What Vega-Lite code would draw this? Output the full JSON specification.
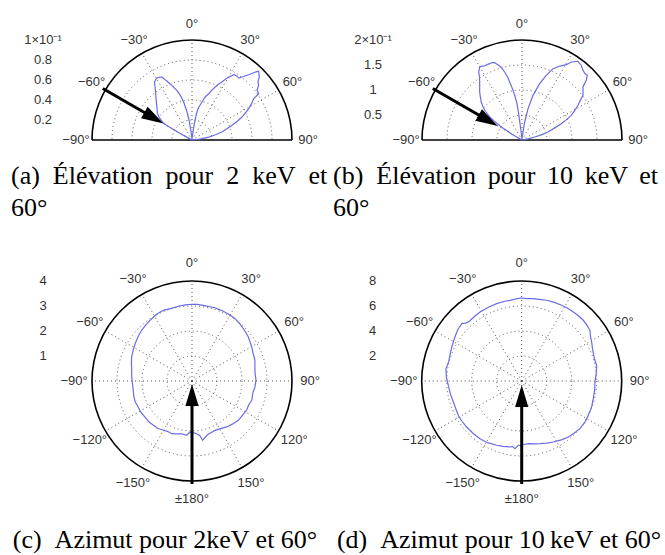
{
  "$schema": "https://vega.github.io/schema/vega-lite/v6.json",
  "padding": 0,
  "background": "white",
  "config": {"view": {"stroke": null}},
  "resolve": {"scale": {"x": "independent", "y": "independent"}},
  "spacing": 31,
  "datasets": {
    "outer": [{"r": 1}],
    "ringsA": [{"r": 0.2}, {"r": 0.4}, {"r": 0.6}, {"r": 0.8}],
    "rings4": [{"r": 0.25}, {"r": 0.5}, {"r": 0.75}],
    "radA": [{"r": 1, "t": "1×10⁻¹"}, {"r": 0.8, "t": "0.8"}, {"r": 0.6, "t": "0.6"}, {"r": 0.4, "t": "0.4"}, {"r": 0.2, "t": "0.2"}],
    "radB": [{"r": 1, "t": "2×10⁻¹"}, {"r": 0.75, "t": "1.5"}, {"r": 0.5, "t": "1"}, {"r": 0.25, "t": "0.5"}],
    "radC": [{"r": 1, "t": "4"}, {"r": 0.75, "t": "3"}, {"r": 0.5, "t": "2"}, {"r": 0.25, "t": "1"}],
    "radD": [{"r": 1, "t": "8"}, {"r": 0.75, "t": "6"}, {"r": 0.5, "t": "4"}, {"r": 0.25, "t": "2"}],
    "elevSpokes": [{"a": -60}, {"a": -30}, {"a": 0}, {"a": 30}, {"a": 60}],
    "azSpokes": [{"a": 0}, {"a": 30}, {"a": 60}, {"a": 90}, {"a": 120}, {"a": 150}, {"a": 180}, {"a": 210}, {"a": 240}, {"a": 270}, {"a": 300}, {"a": 330}],
    "elevLabels": [{"a": -90, "t": "−90°"}, {"a": -60, "t": "−60°"}, {"a": -30, "t": "−30°"}, {"a": 0, "t": "0°"}, {"a": 30, "t": "30°"}, {"a": 60, "t": "60°"}, {"a": 90, "t": "90°"}],
    "azLabels": [{"a": 0, "t": "0°"}, {"a": 30, "t": "30°"}, {"a": 60, "t": "60°"}, {"a": 90, "t": "90°"}, {"a": 120, "t": "120°"}, {"a": 150, "t": "150°"}, {"a": 180, "t": "±180°"}, {"a": -150, "t": "−150°"}, {"a": -120, "t": "−120°"}, {"a": -90, "t": "−90°"}, {"a": -60, "t": "−60°"}, {"a": -30, "t": "−30°"}],
    "arrowA": [{"a": -60, "r1": 1.03, "r2": 0.46, "rh": 0.44}],
    "arrowB": [{"a": -60, "r1": 1.03, "r2": 0.41, "rh": 0.39}],
    "arrowC": [{"a": 180, "r1": 1.03, "r2": 0.16, "rh": 0.14}],
    "arrowD": [{"a": 180, "r1": 1.03, "r2": 0.17, "rh": 0.15}],
    "curveA": [
      {"deg": -90, "v": 0}, {"deg": -75, "v": 0.0005}, {"deg": -65, "v": 0.001}, {"deg": -62, "v": 0.004}, {"deg": -61, "v": 0.015}, {"deg": -60, "v": 0.030}, {"deg": -59, "v": 0.034}, {"deg": -57, "v": 0.037}, {"deg": -55, "v": 0.0405}, {"deg": -52, "v": 0.044}, {"deg": -48, "v": 0.047}, {"deg": -45, "v": 0.050}, {"deg": -41, "v": 0.0548}, {"deg": -38, "v": 0.059}, {"deg": -35.6, "v": 0.0631}, {"deg": -33, "v": 0.069}, {"deg": -30, "v": 0.0712}, {"deg": -28, "v": 0.0710}, {"deg": -25.5, "v": 0.0698}, {"deg": -23, "v": 0.0638}, {"deg": -20, "v": 0.0576}, {"deg": -17, "v": 0.0519}, {"deg": -14.6, "v": 0.0462}, {"deg": -12.4, "v": 0.0389}, {"deg": -10, "v": 0.0284}, {"deg": -8, "v": 0.018}, {"deg": -7, "v": 0.010}, {"deg": -5, "v": 0.004}, {"deg": -2, "v": 0.001}, {"deg": 0, "v": 0},
      {"deg": 2, "v": 0.001}, {"deg": 5, "v": 0.004}, {"deg": 7, "v": 0.0081}, {"deg": 8.5, "v": 0.0182}, {"deg": 10, "v": 0.0284}, {"deg": 12, "v": 0.034}, {"deg": 14.7, "v": 0.0393}, {"deg": 17, "v": 0.045}, {"deg": 19.8, "v": 0.0492}, {"deg": 22, "v": 0.054}, {"deg": 23.7, "v": 0.0579}, {"deg": 25.5, "v": 0.062}, {"deg": 27.3, "v": 0.0653}, {"deg": 29, "v": 0.070}, {"deg": 30.6, "v": 0.0732}, {"deg": 32.6, "v": 0.0775}, {"deg": 35, "v": 0.0782}, {"deg": 37, "v": 0.0776}, {"deg": 38.4, "v": 0.0804}, {"deg": 41, "v": 0.0865}, {"deg": 43, "v": 0.0929}, {"deg": 44.1, "v": 0.0957}, {"deg": 45.5, "v": 0.094}, {"deg": 46.9, "v": 0.0922}, {"deg": 48.5, "v": 0.088}, {"deg": 50.6, "v": 0.0862}, {"deg": 52.6, "v": 0.0818}, {"deg": 55.2, "v": 0.0812}, {"deg": 56.2, "v": 0.0742}, {"deg": 58.5, "v": 0.070}, {"deg": 61, "v": 0.0648}, {"deg": 63, "v": 0.060}, {"deg": 65.3, "v": 0.055}, {"deg": 67.5, "v": 0.049}, {"deg": 69.8, "v": 0.0426}, {"deg": 72, "v": 0.037}, {"deg": 75, "v": 0.031}, {"deg": 77.5, "v": 0.024}, {"deg": 80, "v": 0.017}, {"deg": 83, "v": 0.009}, {"deg": 86, "v": 0.004}, {"deg": 90, "v": 0}
    ],
    "curveB": [
      {"deg": -90, "v": 0}, {"deg": -70, "v": 0.001}, {"deg": -62, "v": 0.004}, {"deg": -60.5, "v": 0.015}, {"deg": -59.5, "v": 0.025}, {"deg": -57.9, "v": 0.0488}, {"deg": -56, "v": 0.065}, {"deg": -54.5, "v": 0.0794}, {"deg": -51.5, "v": 0.0954}, {"deg": -49, "v": 0.104}, {"deg": -47, "v": 0.1114}, {"deg": -44, "v": 0.120}, {"deg": -41.4, "v": 0.128}, {"deg": -38.5, "v": 0.136}, {"deg": -36.1, "v": 0.1436}, {"deg": -34, "v": 0.152}, {"deg": -32.5, "v": 0.1612}, {"deg": -30.1, "v": 0.1688}, {"deg": -28.5, "v": 0.168}, {"deg": -26.8, "v": 0.1658}, {"deg": -24.8, "v": 0.166}, {"deg": -22.9, "v": 0.1658}, {"deg": -21, "v": 0.166}, {"deg": -19.5, "v": 0.164}, {"deg": -18, "v": 0.159}, {"deg": -16.8, "v": 0.1546}, {"deg": -15.5, "v": 0.148}, {"deg": -14.3, "v": 0.1404}, {"deg": -13, "v": 0.130}, {"deg": -12, "v": 0.1186}, {"deg": -10.5, "v": 0.104}, {"deg": -9.3, "v": 0.0906}, {"deg": -8, "v": 0.075}, {"deg": -7.5, "v": 0.063}, {"deg": -7, "v": 0.036}, {"deg": -6, "v": 0.015}, {"deg": -4, "v": 0.004}, {"deg": 0, "v": 0},
      {"deg": 4, "v": 0.003}, {"deg": 7, "v": 0.015}, {"deg": 8.4, "v": 0.0364}, {"deg": 10.9, "v": 0.0638}, {"deg": 13.8, "v": 0.092}, {"deg": 17.4, "v": 0.118}, {"deg": 20.6, "v": 0.1382}, {"deg": 23.5, "v": 0.1556}, {"deg": 27, "v": 0.166}, {"deg": 30.5, "v": 0.1748}, {"deg": 32.3, "v": 0.1846}, {"deg": 35.4, "v": 0.1932}, {"deg": 38.4, "v": 0.1908}, {"deg": 41.2, "v": 0.1852}, {"deg": 43.5, "v": 0.183}, {"deg": 45.3, "v": 0.1838}, {"deg": 47.1, "v": 0.1754}, {"deg": 49, "v": 0.1616}, {"deg": 51.5, "v": 0.156}, {"deg": 53.8, "v": 0.1512}, {"deg": 56, "v": 0.140}, {"deg": 58.2, "v": 0.1318}, {"deg": 61, "v": 0.120}, {"deg": 63.4, "v": 0.1102}, {"deg": 65.5, "v": 0.097}, {"deg": 67.5, "v": 0.085}, {"deg": 70, "v": 0.068}, {"deg": 72.9, "v": 0.0544}, {"deg": 75, "v": 0.040}, {"deg": 76.7, "v": 0.026}, {"deg": 79, "v": 0.014}, {"deg": 83, "v": 0.006}, {"deg": 90, "v": 0}
    ],
    "curveC": [
      {"deg": -180, "v": 2.08}, {"deg": -177.8, "v": 2.04}, {"deg": -174.4, "v": 2.18}, {"deg": -169, "v": 2.15}, {"deg": -164, "v": 2.20}, {"deg": -158.9, "v": 2.26}, {"deg": -154, "v": 2.24}, {"deg": -149.8, "v": 2.28}, {"deg": -144, "v": 2.34}, {"deg": -138.9, "v": 2.35}, {"deg": -133, "v": 2.38}, {"deg": -127.5, "v": 2.37}, {"deg": -121, "v": 2.40}, {"deg": -115.8, "v": 2.39}, {"deg": -110, "v": 2.42}, {"deg": -105.4, "v": 2.41}, {"deg": -99, "v": 2.38}, {"deg": -92.6, "v": 2.38}, {"deg": -86, "v": 2.42}, {"deg": -79.9, "v": 2.45}, {"deg": -74, "v": 2.52}, {"deg": -68.3, "v": 2.60}, {"deg": -62, "v": 2.66}, {"deg": -56.8, "v": 2.72}, {"deg": -50, "v": 2.80}, {"deg": -44.8, "v": 2.86}, {"deg": -40, "v": 2.90}, {"deg": -34.7, "v": 2.95}, {"deg": -28, "v": 3.02}, {"deg": -22.1, "v": 3.05}, {"deg": -16, "v": 3.02}, {"deg": -10.4, "v": 3.04}, {"deg": -5, "v": 3.06},
      {"deg": 0, "v": 3.07}, {"deg": 4, "v": 3.07}, {"deg": 8.5, "v": 3.06}, {"deg": 13, "v": 3.05}, {"deg": 17.4, "v": 3.07}, {"deg": 22, "v": 3.06}, {"deg": 27, "v": 3.05}, {"deg": 31, "v": 3.04}, {"deg": 34.6, "v": 3.03}, {"deg": 40, "v": 2.98}, {"deg": 44.5, "v": 2.93}, {"deg": 48, "v": 2.90}, {"deg": 52, "v": 2.86}, {"deg": 56, "v": 2.80}, {"deg": 60.3, "v": 2.75}, {"deg": 66, "v": 2.68}, {"deg": 71.8, "v": 2.65}, {"deg": 77, "v": 2.58}, {"deg": 83.4, "v": 2.54}, {"deg": 89, "v": 2.56}, {"deg": 95.4, "v": 2.53}, {"deg": 101, "v": 2.48}, {"deg": 107.9, "v": 2.51}, {"deg": 113, "v": 2.46}, {"deg": 118.2, "v": 2.48}, {"deg": 124, "v": 2.44}, {"deg": 130.3, "v": 2.43}, {"deg": 137, "v": 2.36}, {"deg": 143, "v": 2.30}, {"deg": 149, "v": 2.22}, {"deg": 155, "v": 2.18}, {"deg": 160, "v": 2.20}, {"deg": 164, "v": 2.24}, {"deg": 167, "v": 2.32}, {"deg": 169.8, "v": 2.41}, {"deg": 172, "v": 2.20}, {"deg": 175, "v": 2.12}, {"deg": 178, "v": 2.08}, {"deg": 180, "v": 2.08}
    ],
    "curveD": [
      {"deg": -180, "v": 5.12}, {"deg": -177, "v": 5.15}, {"deg": -174.3, "v": 5.44}, {"deg": -172, "v": 5.28}, {"deg": -170, "v": 5.36}, {"deg": -164, "v": 5.44}, {"deg": -158.7, "v": 5.52}, {"deg": -151, "v": 5.64}, {"deg": -144.1, "v": 5.70}, {"deg": -137, "v": 5.72}, {"deg": -129.9, "v": 5.74}, {"deg": -124, "v": 5.76}, {"deg": -118.4, "v": 5.77}, {"deg": -113, "v": 5.72}, {"deg": -107.1, "v": 5.72}, {"deg": -100, "v": 5.80}, {"deg": -93.4, "v": 5.88}, {"deg": -87, "v": 6.04}, {"deg": -80.8, "v": 6.14}, {"deg": -75, "v": 6.04}, {"deg": -70.3, "v": 6.10}, {"deg": -65, "v": 6.20}, {"deg": -60.3, "v": 6.30}, {"deg": -55, "v": 6.44}, {"deg": -50.5, "v": 6.58}, {"deg": -46, "v": 6.64}, {"deg": -44, "v": 6.44}, {"deg": -40.9, "v": 6.36}, {"deg": -36, "v": 6.40}, {"deg": -31.1, "v": 6.45}, {"deg": -24, "v": 6.48}, {"deg": -17.9, "v": 6.50}, {"deg": -12, "v": 6.52}, {"deg": -8.2, "v": 6.52}, {"deg": -3, "v": 6.60},
      {"deg": 0, "v": 6.64}, {"deg": 4, "v": 6.60}, {"deg": 8, "v": 6.65}, {"deg": 12, "v": 6.68}, {"deg": 17.2, "v": 6.76}, {"deg": 22, "v": 6.80}, {"deg": 27.8, "v": 6.85}, {"deg": 32, "v": 6.88}, {"deg": 36.8, "v": 6.90}, {"deg": 41, "v": 6.92}, {"deg": 45.4, "v": 6.92}, {"deg": 49, "v": 6.88}, {"deg": 53.4, "v": 6.80}, {"deg": 57, "v": 6.56}, {"deg": 60.9, "v": 6.41}, {"deg": 65, "v": 6.24}, {"deg": 69.1, "v": 6.14}, {"deg": 74, "v": 6.08}, {"deg": 78.2, "v": 6.13}, {"deg": 84, "v": 6.00}, {"deg": 90.8, "v": 5.86}, {"deg": 97, "v": 5.88}, {"deg": 103.9, "v": 5.90}, {"deg": 110, "v": 5.96}, {"deg": 117.3, "v": 5.99}, {"deg": 123, "v": 6.04}, {"deg": 129.3, "v": 6.02}, {"deg": 135, "v": 5.92}, {"deg": 140.2, "v": 5.83}, {"deg": 146, "v": 5.68}, {"deg": 152.6, "v": 5.50}, {"deg": 158, "v": 5.36}, {"deg": 163.7, "v": 5.22}, {"deg": 169, "v": 5.12}, {"deg": 174, "v": 5.04}, {"deg": 180, "v": 5.12}
    ]
  },
  "vconcat": [
    {
      "spacing": 3,
      "resolve": {"scale": {"x": "independent", "y": "independent"}},
      "hconcat": [
        {
          "width": 330, "height": 140,
          "title": {"text": ["(a)\u2002Élévation\u2002pour\u20022\u2002keV\u2002et", "60°"], "orient": "bottom", "anchor": "start", "frame": "group", "offset": 16, "dx": 11, "baseline": "top", "font": "Liberation Serif", "fontSize": 26, "fontWeight": "normal", "color": "black", "lineHeight": 32},
          "layer": [
            {
              "data": {"name": "ringsA"},
              "mark": {"type": "point", "shape": "circle", "filled": false, "color": "#555", "opacity": 1, "strokeWidth": 1, "strokeDash": [1, 3], "clip": true},
              "encoding": {
                "x": {"datum": 0, "type": "quantitative", "scale": {"domain": [-1.92, 1.38], "nice": false, "zero": false}, "axis": null},
                "y": {"datum": 0, "type": "quantitative", "scale": {"domain": [0, 1.4], "nice": false, "zero": false}, "axis": null},
                "size": {"field": "r", "type": "quantitative", "scale": {"type": "pow", "exponent": 2, "domain": [0, 1], "range": [0, 40000]}, "legend": null}
              }
            },
            {
              "data": {"name": "elevSpokes"},
              "transform": [{"calculate": "sin(datum.a*PI/180)", "as": "x2"}, {"calculate": "cos(datum.a*PI/180)", "as": "y2"}, {"calculate": "0", "as": "x"}, {"calculate": "0", "as": "y"}],
              "mark": {"type": "rule", "color": "#555", "strokeWidth": 1, "strokeDash": [1, 3]},
              "encoding": {
                "x": {"field": "x", "type": "quantitative", "scale": {"domain": [-1.92, 1.38], "nice": false, "zero": false}, "axis": null},
                "y": {"field": "y", "type": "quantitative", "scale": {"domain": [0, 1.4], "nice": false, "zero": false}, "axis": null},
                "x2": {"field": "x2"}, "y2": {"field": "y2"}
              }
            },
            {
              "data": {"name": "outer"},
              "mark": {"type": "point", "shape": "circle", "filled": false, "color": "black", "opacity": 1, "strokeWidth": 1.6, "clip": true},
              "encoding": {
                "x": {"datum": 0, "type": "quantitative", "scale": {"domain": [-1.92, 1.38], "nice": false, "zero": false}, "axis": null},
                "y": {"datum": 0, "type": "quantitative", "scale": {"domain": [0, 1.4], "nice": false, "zero": false}, "axis": null},
                "size": {"field": "r", "type": "quantitative", "scale": {"type": "pow", "exponent": 2, "domain": [0, 1], "range": [0, 40000]}, "legend": null}
              }
            },
            {
              "data": {"name": "elevLabels"},
              "transform": [{"filter": "datum.a == -90 || datum.a == 90"}, {"calculate": "sin(datum.a*PI/180)", "as": "x"}, {"calculate": "0", "as": "y"}],
              "mark": {"type": "line", "color": "black", "strokeWidth": 1.6},
              "encoding": {
                "x": {"field": "x", "type": "quantitative", "scale": {"domain": [-1.92, 1.38], "nice": false, "zero": false}, "axis": null},
                "y": {"field": "y", "type": "quantitative", "scale": {"domain": [0, 1.4], "nice": false, "zero": false}, "axis": null}
              }
            },
            {
              "data": {"name": "curveA"},
              "transform": [{"calculate": "datum.v/0.1*sin(datum.deg*PI/180)", "as": "x"}, {"calculate": "datum.v/0.1*cos(datum.deg*PI/180)", "as": "y"}],
              "mark": {"type": "line", "color": "#6b6be6", "strokeWidth": 1.2},
              "encoding": {
                "x": {"field": "x", "type": "quantitative", "scale": {"domain": [-1.92, 1.38], "nice": false, "zero": false}, "axis": null},
                "y": {"field": "y", "type": "quantitative", "scale": {"domain": [0, 1.4], "nice": false, "zero": false}, "axis": null},
                "order": {"field": "deg", "type": "quantitative"}
              }
            },
            {
              "data": {"name": "arrowA"},
              "transform": [{"calculate": "datum.r1*sin(datum.a*PI/180)", "as": "x"}, {"calculate": "datum.r1*cos(datum.a*PI/180)", "as": "y"}, {"calculate": "datum.r2*sin(datum.a*PI/180)", "as": "x2"}, {"calculate": "datum.r2*cos(datum.a*PI/180)", "as": "y2"}],
              "mark": {"type": "rule", "color": "black", "strokeWidth": 3},
              "encoding": {
                "x": {"field": "x", "type": "quantitative", "scale": {"domain": [-1.92, 1.38], "nice": false, "zero": false}, "axis": null},
                "y": {"field": "y", "type": "quantitative", "scale": {"domain": [0, 1.4], "nice": false, "zero": false}, "axis": null},
                "x2": {"field": "x2"}, "y2": {"field": "y2"}
              }
            },
            {
              "data": {"name": "arrowA"},
              "transform": [{"calculate": "datum.rh*sin(datum.a*PI/180)", "as": "x"}, {"calculate": "datum.rh*cos(datum.a*PI/180)", "as": "y"}],
              "mark": {"type": "point", "shape": "M0,-1L0.6,1L-0.6,1Z", "size": 484, "angle": 120, "filled": true, "color": "black", "opacity": 1, "strokeWidth": 0},
              "encoding": {
                "x": {"field": "x", "type": "quantitative", "scale": {"domain": [-1.92, 1.38], "nice": false, "zero": false}, "axis": null},
                "y": {"field": "y", "type": "quantitative", "scale": {"domain": [0, 1.4], "nice": false, "zero": false}, "axis": null}
              }
            },
            {
              "data": {"name": "elevLabels"},
              "transform": [{"calculate": "1.16*sin(datum.a*PI/180)", "as": "x"}, {"calculate": "1.16*cos(datum.a*PI/180)", "as": "y"}],
              "mark": {"type": "text", "font": "Liberation Sans", "fontSize": 13, "color": "#333", "align": "center", "baseline": "middle"},
              "encoding": {
                "x": {"field": "x", "type": "quantitative", "scale": {"domain": [-1.92, 1.38], "nice": false, "zero": false}, "axis": null},
                "y": {"field": "y", "type": "quantitative", "scale": {"domain": [0, 1.4], "nice": false, "zero": false}, "axis": null},
                "text": {"field": "t"}
              }
            },
            {
              "data": {"name": "radA"},
              "mark": {"type": "text", "font": "Liberation Sans", "fontSize": 13, "color": "#333", "align": "center", "baseline": "middle"},
              "encoding": {
                "x": {"datum": -1.49, "type": "quantitative", "scale": {"domain": [-1.92, 1.38], "nice": false, "zero": false}, "axis": null},
                "y": {"field": "r", "type": "quantitative", "scale": {"domain": [0, 1.4], "nice": false, "zero": false}, "axis": null},
                "text": {"field": "t"}
              }
            }
          ]
        },
        {
          "width": 332, "height": 140,
          "title": {"text": ["(b)\u2002Élévation \u2009pour \u200910 \u2009keV \u2009et", "60°"], "orient": "bottom", "anchor": "start", "frame": "group", "offset": 16, "dx": 0, "baseline": "top", "font": "Liberation Serif", "fontSize": 26, "fontWeight": "normal", "color": "black", "lineHeight": 32},
          "layer": [
            {
              "data": {"name": "rings4"},
              "mark": {"type": "point", "shape": "circle", "filled": false, "color": "#555", "opacity": 1, "strokeWidth": 1, "strokeDash": [1, 3], "clip": true},
              "encoding": {
                "x": {"datum": 0, "type": "quantitative", "scale": {"domain": [-1.89, 1.43], "nice": false, "zero": false}, "axis": null},
                "y": {"datum": 0, "type": "quantitative", "scale": {"domain": [0, 1.4], "nice": false, "zero": false}, "axis": null},
                "size": {"field": "r", "type": "quantitative", "scale": {"type": "pow", "exponent": 2, "domain": [0, 1], "range": [0, 40000]}, "legend": null}
              }
            },
            {
              "data": {"name": "elevSpokes"},
              "transform": [{"calculate": "sin(datum.a*PI/180)", "as": "x2"}, {"calculate": "cos(datum.a*PI/180)", "as": "y2"}, {"calculate": "0", "as": "x"}, {"calculate": "0", "as": "y"}],
              "mark": {"type": "rule", "color": "#555", "strokeWidth": 1, "strokeDash": [1, 3]},
              "encoding": {
                "x": {"field": "x", "type": "quantitative", "scale": {"domain": [-1.89, 1.43], "nice": false, "zero": false}, "axis": null},
                "y": {"field": "y", "type": "quantitative", "scale": {"domain": [0, 1.4], "nice": false, "zero": false}, "axis": null},
                "x2": {"field": "x2"}, "y2": {"field": "y2"}
              }
            },
            {
              "data": {"name": "outer"},
              "mark": {"type": "point", "shape": "circle", "filled": false, "color": "black", "opacity": 1, "strokeWidth": 1.6, "clip": true},
              "encoding": {
                "x": {"datum": 0, "type": "quantitative", "scale": {"domain": [-1.89, 1.43], "nice": false, "zero": false}, "axis": null},
                "y": {"datum": 0, "type": "quantitative", "scale": {"domain": [0, 1.4], "nice": false, "zero": false}, "axis": null},
                "size": {"field": "r", "type": "quantitative", "scale": {"type": "pow", "exponent": 2, "domain": [0, 1], "range": [0, 40000]}, "legend": null}
              }
            },
            {
              "data": {"name": "elevLabels"},
              "transform": [{"filter": "datum.a == -90 || datum.a == 90"}, {"calculate": "sin(datum.a*PI/180)", "as": "x"}, {"calculate": "0", "as": "y"}],
              "mark": {"type": "line", "color": "black", "strokeWidth": 1.6},
              "encoding": {
                "x": {"field": "x", "type": "quantitative", "scale": {"domain": [-1.89, 1.43], "nice": false, "zero": false}, "axis": null},
                "y": {"field": "y", "type": "quantitative", "scale": {"domain": [0, 1.4], "nice": false, "zero": false}, "axis": null}
              }
            },
            {
              "data": {"name": "curveB"},
              "transform": [{"calculate": "datum.v/0.2*sin(datum.deg*PI/180)", "as": "x"}, {"calculate": "datum.v/0.2*cos(datum.deg*PI/180)", "as": "y"}],
              "mark": {"type": "line", "color": "#6b6be6", "strokeWidth": 1.2},
              "encoding": {
                "x": {"field": "x", "type": "quantitative", "scale": {"domain": [-1.89, 1.43], "nice": false, "zero": false}, "axis": null},
                "y": {"field": "y", "type": "quantitative", "scale": {"domain": [0, 1.4], "nice": false, "zero": false}, "axis": null},
                "order": {"field": "deg", "type": "quantitative"}
              }
            },
            {
              "data": {"name": "arrowB"},
              "transform": [{"calculate": "datum.r1*sin(datum.a*PI/180)", "as": "x"}, {"calculate": "datum.r1*cos(datum.a*PI/180)", "as": "y"}, {"calculate": "datum.r2*sin(datum.a*PI/180)", "as": "x2"}, {"calculate": "datum.r2*cos(datum.a*PI/180)", "as": "y2"}],
              "mark": {"type": "rule", "color": "black", "strokeWidth": 3},
              "encoding": {
                "x": {"field": "x", "type": "quantitative", "scale": {"domain": [-1.89, 1.43], "nice": false, "zero": false}, "axis": null},
                "y": {"field": "y", "type": "quantitative", "scale": {"domain": [0, 1.4], "nice": false, "zero": false}, "axis": null},
                "x2": {"field": "x2"}, "y2": {"field": "y2"}
              }
            },
            {
              "data": {"name": "arrowB"},
              "transform": [{"calculate": "datum.rh*sin(datum.a*PI/180)", "as": "x"}, {"calculate": "datum.rh*cos(datum.a*PI/180)", "as": "y"}],
              "mark": {"type": "point", "shape": "M0,-1L0.6,1L-0.6,1Z", "size": 484, "angle": 120, "filled": true, "color": "black", "opacity": 1, "strokeWidth": 0},
              "encoding": {
                "x": {"field": "x", "type": "quantitative", "scale": {"domain": [-1.89, 1.43], "nice": false, "zero": false}, "axis": null},
                "y": {"field": "y", "type": "quantitative", "scale": {"domain": [0, 1.4], "nice": false, "zero": false}, "axis": null}
              }
            },
            {
              "data": {"name": "elevLabels"},
              "transform": [{"calculate": "1.16*sin(datum.a*PI/180)", "as": "x"}, {"calculate": "1.16*cos(datum.a*PI/180)", "as": "y"}],
              "mark": {"type": "text", "font": "Liberation Sans", "fontSize": 13, "color": "#333", "align": "center", "baseline": "middle"},
              "encoding": {
                "x": {"field": "x", "type": "quantitative", "scale": {"domain": [-1.89, 1.43], "nice": false, "zero": false}, "axis": null},
                "y": {"field": "y", "type": "quantitative", "scale": {"domain": [0, 1.4], "nice": false, "zero": false}, "axis": null},
                "text": {"field": "t"}
              }
            },
            {
              "data": {"name": "radB"},
              "mark": {"type": "text", "font": "Liberation Sans", "fontSize": 13, "color": "#333", "align": "center", "baseline": "middle"},
              "encoding": {
                "x": {"datum": -1.49, "type": "quantitative", "scale": {"domain": [-1.89, 1.43], "nice": false, "zero": false}, "axis": null},
                "y": {"field": "r", "type": "quantitative", "scale": {"domain": [0, 1.4], "nice": false, "zero": false}, "axis": null},
                "text": {"field": "t"}
              }
            }
          ]
        }
      ]
    },
    {
      "spacing": 3,
      "resolve": {"scale": {"x": "independent", "y": "independent"}},
      "hconcat": [
        {
          "width": 330, "height": 258,
          "title": {"text": "(c)\u2002Azimut pour 2keV et 60°", "orient": "bottom", "anchor": "middle", "frame": "group", "offset": 17, "baseline": "top", "font": "Liberation Serif", "fontSize": 26, "fontWeight": "normal", "color": "black"},
          "layer": [
            {
              "data": {"name": "rings4"},
              "mark": {"type": "point", "shape": "circle", "filled": false, "color": "#555", "opacity": 1, "strokeWidth": 1, "strokeDash": [1, 3]},
              "encoding": {
                "x": {"datum": 0, "type": "quantitative", "scale": {"domain": [-1.92, 1.38], "nice": false, "zero": false}, "axis": null},
                "y": {"datum": 0, "type": "quantitative", "scale": {"domain": [-1.29, 1.29], "nice": false, "zero": false}, "axis": null},
                "size": {"field": "r", "type": "quantitative", "scale": {"type": "pow", "exponent": 2, "domain": [0, 1], "range": [0, 40000]}, "legend": null}
              }
            },
            {
              "data": {"name": "azSpokes"},
              "transform": [{"calculate": "sin(datum.a*PI/180)", "as": "x2"}, {"calculate": "cos(datum.a*PI/180)", "as": "y2"}, {"calculate": "0", "as": "x"}, {"calculate": "0", "as": "y"}],
              "mark": {"type": "rule", "color": "#555", "strokeWidth": 1, "strokeDash": [1, 3]},
              "encoding": {
                "x": {"field": "x", "type": "quantitative", "scale": {"domain": [-1.92, 1.38], "nice": false, "zero": false}, "axis": null},
                "y": {"field": "y", "type": "quantitative", "scale": {"domain": [-1.29, 1.29], "nice": false, "zero": false}, "axis": null},
                "x2": {"field": "x2"}, "y2": {"field": "y2"}
              }
            },
            {
              "data": {"name": "outer"},
              "mark": {"type": "point", "shape": "circle", "filled": false, "color": "black", "opacity": 1, "strokeWidth": 1.6},
              "encoding": {
                "x": {"datum": 0, "type": "quantitative", "scale": {"domain": [-1.92, 1.38], "nice": false, "zero": false}, "axis": null},
                "y": {"datum": 0, "type": "quantitative", "scale": {"domain": [-1.29, 1.29], "nice": false, "zero": false}, "axis": null},
                "size": {"field": "r", "type": "quantitative", "scale": {"type": "pow", "exponent": 2, "domain": [0, 1], "range": [0, 40000]}, "legend": null}
              }
            },
            {
              "data": {"name": "curveC"},
              "transform": [{"calculate": "datum.v/4*sin(datum.deg*PI/180)", "as": "x"}, {"calculate": "datum.v/4*cos(datum.deg*PI/180)", "as": "y"}],
              "mark": {"type": "line", "color": "#6b6be6", "strokeWidth": 1.2},
              "encoding": {
                "x": {"field": "x", "type": "quantitative", "scale": {"domain": [-1.92, 1.38], "nice": false, "zero": false}, "axis": null},
                "y": {"field": "y", "type": "quantitative", "scale": {"domain": [-1.29, 1.29], "nice": false, "zero": false}, "axis": null},
                "order": {"field": "deg", "type": "quantitative"}
              }
            },
            {
              "data": {"name": "arrowC"},
              "transform": [{"calculate": "datum.r1*sin(datum.a*PI/180)", "as": "x"}, {"calculate": "datum.r1*cos(datum.a*PI/180)", "as": "y"}, {"calculate": "datum.r2*sin(datum.a*PI/180)", "as": "x2"}, {"calculate": "datum.r2*cos(datum.a*PI/180)", "as": "y2"}],
              "mark": {"type": "rule", "color": "black", "strokeWidth": 3},
              "encoding": {
                "x": {"field": "x", "type": "quantitative", "scale": {"domain": [-1.92, 1.38], "nice": false, "zero": false}, "axis": null},
                "y": {"field": "y", "type": "quantitative", "scale": {"domain": [-1.29, 1.29], "nice": false, "zero": false}, "axis": null},
                "x2": {"field": "x2"}, "y2": {"field": "y2"}
              }
            },
            {
              "data": {"name": "arrowC"},
              "transform": [{"calculate": "datum.rh*sin(datum.a*PI/180)", "as": "x"}, {"calculate": "datum.rh*cos(datum.a*PI/180)", "as": "y"}],
              "mark": {"type": "point", "shape": "M0,-1L0.6,1L-0.6,1Z", "size": 484, "angle": 0, "filled": true, "color": "black", "opacity": 1, "strokeWidth": 0},
              "encoding": {
                "x": {"field": "x", "type": "quantitative", "scale": {"domain": [-1.92, 1.38], "nice": false, "zero": false}, "axis": null},
                "y": {"field": "y", "type": "quantitative", "scale": {"domain": [-1.29, 1.29], "nice": false, "zero": false}, "axis": null}
              }
            },
            {
              "data": {"name": "azLabels"},
              "transform": [{"calculate": "1.18*sin(datum.a*PI/180)", "as": "x"}, {"calculate": "1.18*cos(datum.a*PI/180)", "as": "y"}],
              "mark": {"type": "text", "font": "Liberation Sans", "fontSize": 13, "color": "#333", "align": "center", "baseline": "middle"},
              "encoding": {
                "x": {"field": "x", "type": "quantitative", "scale": {"domain": [-1.92, 1.38], "nice": false, "zero": false}, "axis": null},
                "y": {"field": "y", "type": "quantitative", "scale": {"domain": [-1.29, 1.29], "nice": false, "zero": false}, "axis": null},
                "text": {"field": "t"}
              }
            },
            {
              "data": {"name": "radC"},
              "mark": {"type": "text", "font": "Liberation Sans", "fontSize": 13, "color": "#333", "align": "center", "baseline": "middle"},
              "encoding": {
                "x": {"datum": -1.49, "type": "quantitative", "scale": {"domain": [-1.92, 1.38], "nice": false, "zero": false}, "axis": null},
                "y": {"field": "r", "type": "quantitative", "scale": {"domain": [-1.29, 1.29], "nice": false, "zero": false}, "axis": null},
                "text": {"field": "t"}
              }
            }
          ]
        },
        {
          "width": 332, "height": 258,
          "title": {"text": "(d)\u2002Azimut pour 10\u2009keV et 60°", "orient": "bottom", "anchor": "middle", "frame": "group", "offset": 17, "baseline": "top", "font": "Liberation Serif", "fontSize": 26, "fontWeight": "normal", "color": "black"},
          "layer": [
            {
              "data": {"name": "rings4"},
              "mark": {"type": "point", "shape": "circle", "filled": false, "color": "#555", "opacity": 1, "strokeWidth": 1, "strokeDash": [1, 3]},
              "encoding": {
                "x": {"datum": 0, "type": "quantitative", "scale": {"domain": [-1.887, 1.433], "nice": false, "zero": false}, "axis": null},
                "y": {"datum": 0, "type": "quantitative", "scale": {"domain": [-1.29, 1.29], "nice": false, "zero": false}, "axis": null},
                "size": {"field": "r", "type": "quantitative", "scale": {"type": "pow", "exponent": 2, "domain": [0, 1], "range": [0, 40000]}, "legend": null}
              }
            },
            {
              "data": {"name": "azSpokes"},
              "transform": [{"calculate": "sin(datum.a*PI/180)", "as": "x2"}, {"calculate": "cos(datum.a*PI/180)", "as": "y2"}, {"calculate": "0", "as": "x"}, {"calculate": "0", "as": "y"}],
              "mark": {"type": "rule", "color": "#555", "strokeWidth": 1, "strokeDash": [1, 3]},
              "encoding": {
                "x": {"field": "x", "type": "quantitative", "scale": {"domain": [-1.887, 1.433], "nice": false, "zero": false}, "axis": null},
                "y": {"field": "y", "type": "quantitative", "scale": {"domain": [-1.29, 1.29], "nice": false, "zero": false}, "axis": null},
                "x2": {"field": "x2"}, "y2": {"field": "y2"}
              }
            },
            {
              "data": {"name": "outer"},
              "mark": {"type": "point", "shape": "circle", "filled": false, "color": "black", "opacity": 1, "strokeWidth": 1.6},
              "encoding": {
                "x": {"datum": 0, "type": "quantitative", "scale": {"domain": [-1.887, 1.433], "nice": false, "zero": false}, "axis": null},
                "y": {"datum": 0, "type": "quantitative", "scale": {"domain": [-1.29, 1.29], "nice": false, "zero": false}, "axis": null},
                "size": {"field": "r", "type": "quantitative", "scale": {"type": "pow", "exponent": 2, "domain": [0, 1], "range": [0, 40000]}, "legend": null}
              }
            },
            {
              "data": {"name": "curveD"},
              "transform": [{"calculate": "datum.v/8*sin(datum.deg*PI/180)", "as": "x"}, {"calculate": "datum.v/8*cos(datum.deg*PI/180)", "as": "y"}],
              "mark": {"type": "line", "color": "#6b6be6", "strokeWidth": 1.2},
              "encoding": {
                "x": {"field": "x", "type": "quantitative", "scale": {"domain": [-1.887, 1.433], "nice": false, "zero": false}, "axis": null},
                "y": {"field": "y", "type": "quantitative", "scale": {"domain": [-1.29, 1.29], "nice": false, "zero": false}, "axis": null},
                "order": {"field": "deg", "type": "quantitative"}
              }
            },
            {
              "data": {"name": "arrowD"},
              "transform": [{"calculate": "datum.r1*sin(datum.a*PI/180)", "as": "x"}, {"calculate": "datum.r1*cos(datum.a*PI/180)", "as": "y"}, {"calculate": "datum.r2*sin(datum.a*PI/180)", "as": "x2"}, {"calculate": "datum.r2*cos(datum.a*PI/180)", "as": "y2"}],
              "mark": {"type": "rule", "color": "black", "strokeWidth": 3},
              "encoding": {
                "x": {"field": "x", "type": "quantitative", "scale": {"domain": [-1.887, 1.433], "nice": false, "zero": false}, "axis": null},
                "y": {"field": "y", "type": "quantitative", "scale": {"domain": [-1.29, 1.29], "nice": false, "zero": false}, "axis": null},
                "x2": {"field": "x2"}, "y2": {"field": "y2"}
              }
            },
            {
              "data": {"name": "arrowD"},
              "transform": [{"calculate": "datum.rh*sin(datum.a*PI/180)", "as": "x"}, {"calculate": "datum.rh*cos(datum.a*PI/180)", "as": "y"}],
              "mark": {"type": "point", "shape": "M0,-1L0.6,1L-0.6,1Z", "size": 484, "angle": 0, "filled": true, "color": "black", "opacity": 1, "strokeWidth": 0},
              "encoding": {
                "x": {"field": "x", "type": "quantitative", "scale": {"domain": [-1.887, 1.433], "nice": false, "zero": false}, "axis": null},
                "y": {"field": "y", "type": "quantitative", "scale": {"domain": [-1.29, 1.29], "nice": false, "zero": false}, "axis": null}
              }
            },
            {
              "data": {"name": "azLabels"},
              "transform": [{"calculate": "1.18*sin(datum.a*PI/180)", "as": "x"}, {"calculate": "1.18*cos(datum.a*PI/180)", "as": "y"}],
              "mark": {"type": "text", "font": "Liberation Sans", "fontSize": 13, "color": "#333", "align": "center", "baseline": "middle"},
              "encoding": {
                "x": {"field": "x", "type": "quantitative", "scale": {"domain": [-1.887, 1.433], "nice": false, "zero": false}, "axis": null},
                "y": {"field": "y", "type": "quantitative", "scale": {"domain": [-1.29, 1.29], "nice": false, "zero": false}, "axis": null},
                "text": {"field": "t"}
              }
            },
            {
              "data": {"name": "radD"},
              "mark": {"type": "text", "font": "Liberation Sans", "fontSize": 13, "color": "#333", "align": "center", "baseline": "middle"},
              "encoding": {
                "x": {"datum": -1.49, "type": "quantitative", "scale": {"domain": [-1.887, 1.433], "nice": false, "zero": false}, "axis": null},
                "y": {"field": "r", "type": "quantitative", "scale": {"domain": [-1.29, 1.29], "nice": false, "zero": false}, "axis": null},
                "text": {"field": "t"}
              }
            }
          ]
        }
      ]
    }
  ]
}
